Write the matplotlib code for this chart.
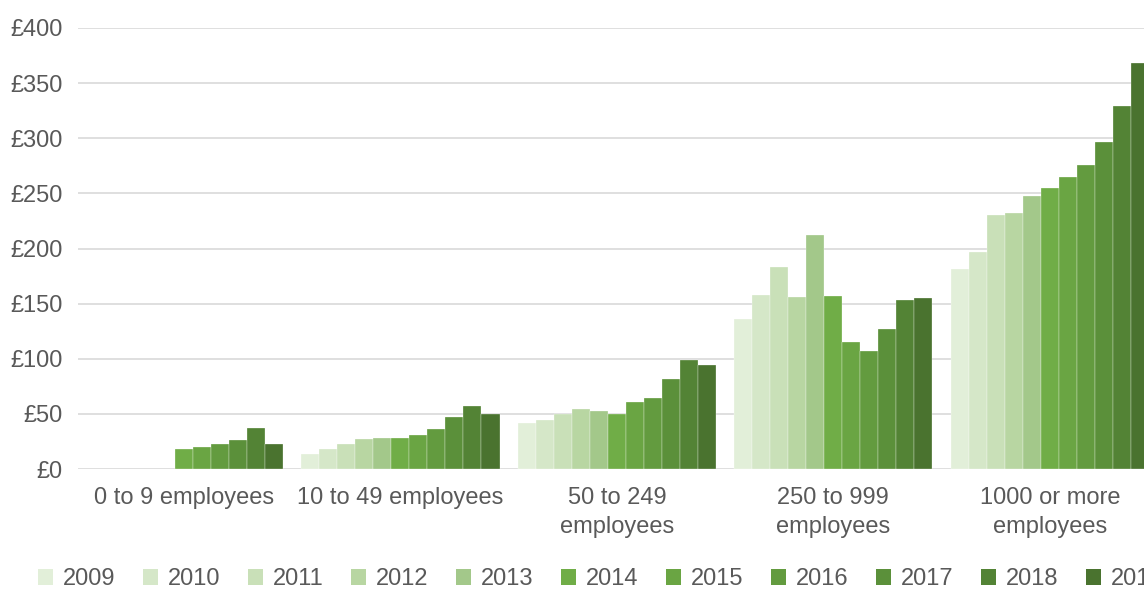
import numpy as np
import matplotlib.pyplot as plt
from matplotlib.patches import Patch

plt.rcParams['font.family'] = ['Liberation Sans', 'DejaVu Sans']

# Average spend per employee (£), by employer size and year
categories = ['0 to 9 employees', '10 to 49 employees', '50 to 249\nemployees',
              '250 to 999\nemployees', '1000 or more\nemployees']
years = ['2009', '2010', '2011', '2012', '2013', '2014',
         '2015', '2016', '2017', '2018', '2019']

size_0_9 = [np.nan, np.nan, np.nan, np.nan, np.nan, 18, 20, 23, 26, 37, 23]
size_10_49 = [14, 18, 23, 27, 28, 28, 31, 36, 47, 57, 50]
size_50_249 = [42, 44, 50, 54, 53, 50, 61, 64, 82, 99, 94]
size_250_999 = [136, 158, 183, 156, 212, 157, 115, 107, 127, 153, 155]
size_1000 = [181, 197, 230, 232, 248, 255, 265, 276, 297, 329, 368]

colours = ['#e2efd9', '#d5e7c8', '#c9e0b8', '#b8d6a2', '#a3c88a', '#70ad47',
           '#6aa543', '#639b3f', '#5b903a', '#538335', '#4a732f']

values = np.array([size_0_9, size_10_49, size_50_249, size_250_999, size_1000])

text_col = '#595959'
grid_col = '#d9d9d9'

fig = plt.figure(figsize=(11.44, 5.90), dpi=100)
# axes runs past the right edge of the figure
ax = fig.add_axes([78 / 1144, 121 / 590, 1080 / 1144, 441 / 590])

x = np.arange(len(categories))
n = len(years)
bw = 0.915 / n
for j in range(n):
    ax.bar(x - 0.4575 + bw * (j + 0.5), values[:, j], width=bw,
           color=colours[j], edgecolor='white', linewidth=0.2, zorder=3)

ax.set_xlim(-0.49, 4.5)
ax.set_ylim(0, 400)
ax.set_yticks(np.arange(0, 401, 50))
ax.set_yticklabels(['£%d' % v for v in range(0, 401, 50)])
ax.set_xticks(x)
ax.set_xticklabels(categories, linespacing=1.4)
ax.grid(axis='y', color=grid_col, linewidth=1.2, zorder=0)
for s in ax.spines.values():
    s.set_visible(False)
ax.tick_params(axis='both', length=0, colors=text_col, labelsize=17)
ax.tick_params(axis='y', pad=11)
ax.tick_params(axis='x', pad=13)

handles = [Patch(facecolor=c, edgecolor='none', label=y) for c, y in zip(colours, years)]
fig.legend(handles=handles, loc='center left', bbox_to_anchor=(38 / 1144, 1 - 579 / 590),
           ncol=n, frameon=False, fontsize=17, labelcolor=text_col,
           handlelength=0.65, handleheight=0.65, handletextpad=0.4,
           columnspacing=1.17, borderaxespad=0, borderpad=0)

fig.savefig('out.png', dpi=100)
